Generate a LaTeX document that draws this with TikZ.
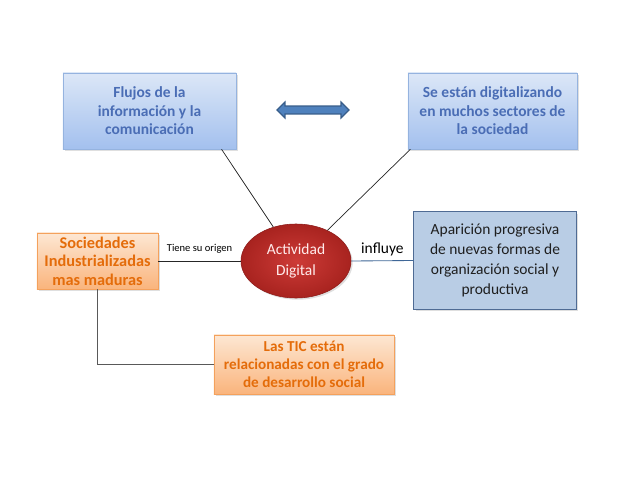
\documentclass[tikz,border=0pt]{standalone}
\usepackage{fontspec}
\setmainfont{Carlito}
\usepackage{tikz}
\usetikzlibrary{
  	positioning,
  	arrows.meta,
  	shapes,
		shadows,
		shadings,
  	calc
  }
\definecolor{azulsup}{HTML}{DCE7F7}
\definecolor{azulinf}{HTML}{A3C0EE}
\definecolor{azulborde}{HTML}{95B3DF}
\definecolor{azultexto}{HTML}{4A6DB5}
\definecolor{naranjasup}{HTML}{FDE7D3}
\definecolor{naranjainf}{HTML}{FAB47C}
\definecolor{naranjaborde}{HTML}{F4A15C}
\definecolor{naranjatexto}{HTML}{E46C0A}
\definecolor{rojoin}{HTML}{CD3B37}
\definecolor{rojoout}{HTML}{A8231F}
\definecolor{rojoborde}{HTML}{8E1C1A}
\definecolor{grisazul}{HTML}{B9CDE5}
\definecolor{grisazulborde}{HTML}{4F6B94}
\definecolor{flechaazul}{HTML}{4F81BD}
\definecolor{flechaborde}{HTML}{385D8A}
\tikzstyle{sombra}=[drop shadow={shadow xshift=1.2pt,shadow yshift=-1.2pt,opacity=0.25}]
\tikzstyle{cajaazul}=[sombra,draw=azulborde,top color=azulsup,bottom color=azulinf,
  text=azultexto,align=center,font=\fontsize{11}{13.2}\selectfont\bfseries,
  minimum height=1.9cm,inner sep=2pt]
\tikzstyle{cajanaranja}=[sombra,draw=naranjaborde,top color=naranjasup,bottom color=naranjainf,
  text=naranjatexto,align=center,font=\fontsize{10.8}{13}\selectfont\bfseries,inner sep=2pt]
\tikzstyle{linea}=[draw=black!85,line width=0.5pt]

\begin{document}
\begin{tikzpicture}[x=0.025cm,y=-0.025cm]
  \useasboundingbox (0,0) rectangle (638,479);
  \node[cajaazul,minimum width=4.33cm] (flujos) at (149.5,111)
     {Flujos de la\\información y la\\comunicación};
  \node[cajaazul,minimum width=4.23cm] (sedig) at (492.5,111)
     {Se están digitalizando\\en muchos sectores de\\la sociedad};
  \node[double arrow,draw=flechaborde,fill=flechaazul,line width=0.8pt,
     minimum height=1.8cm,inner xsep=0pt,inner ysep=0.085cm,
     double arrow head extend=0.1cm] (flecha) at (313,110) {};
%
  \node[cajanaranja,minimum width=3.03cm,minimum height=1.4cm,
     font=\fontsize{11.6}{13.2}\selectfont\bfseries] (soc) at (97.5,261)
     {Sociedades\\Industrializadas\\mas maduras};
  \node[ellipse,sombra,draw=rojoborde,inner color=rojoin,outer color=rojoout,
     minimum width=2.75cm,minimum height=1.85cm,text=white!92!red,align=center,
     font=\fontsize{11}{14.5}\selectfont] (act) at (296,261) {Actividad\\Digital};
  \node[sombra,draw=grisazulborde,fill=grisazul,line width=0.7pt,align=center,
     minimum width=4.05cm,minimum height=2.43cm,text=black!88,
     font=\fontsize{11}{14.2}\selectfont] (apa) at (495,260.5)
     {Aparición progresiva\\de nuevas formas de\\organización social y\\productiva};
  \node[cajanaranja,minimum width=4.5cm,minimum height=1.48cm] (tic) at (304,364.5)
     {Las TIC están\\relacionadas con el grado\\de desarrollo social};
%
  \draw[linea] (act) -- (flujos.-28);
  \draw[linea] (act) -- (sedig.205);
  \draw[linea] (soc.east) -- (act.west)
     node[midway,above=2pt,font=\fontsize{7.5}{9}\selectfont] {Tiene su origen};
  \draw[draw=flechaazul!80!black,line width=0.6pt] (act.east) -- (apa.west)
     node[midway,above=0pt,font=\fontsize{11}{13}\selectfont] {influye};
  \draw[draw=black!65,line width=0.8pt] (soc.south) |- (tic.west);
\end{tikzpicture}
\end{document}
